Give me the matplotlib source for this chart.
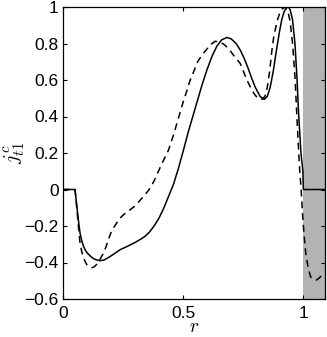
import matplotlib
matplotlib.use("Agg")
import matplotlib.pyplot as plt

# solid curve
r_solid = [0.0, 0.05, 0.055, 0.06, 0.066, 0.071, 0.078, 0.085, 0.092, 0.099, 0.11, 0.12, 0.13,
           0.14, 0.154, 0.17, 0.19, 0.21, 0.2375, 0.27, 0.30, 0.32, 0.34, 0.36, 0.38, 0.40,
           0.42, 0.44, 0.46, 0.48, 0.50, 0.52, 0.54, 0.56, 0.58, 0.60, 0.62, 0.64,
           0.66, 0.682, 0.70, 0.72, 0.7375, 0.755, 0.77, 0.785, 0.80, 0.82, 0.8375, 0.85,
           0.862, 0.875, 0.89, 0.90, 0.91, 0.92, 0.93, 0.938, 0.945, 0.955, 0.965, 0.973,
           0.98, 0.99, 0.998, 1.0, 1.09]
j_solid = [0.0, 0.0, -0.06, -0.12, -0.19, -0.24, -0.28, -0.31, -0.33, -0.345, -0.36, -0.372, -0.381,
           -0.386, -0.39, -0.387, -0.372, -0.355, -0.33, -0.31, -0.29, -0.275, -0.258, -0.233, -0.198, -0.155,
           -0.10, -0.035, 0.03, 0.115, 0.21, 0.31, 0.40, 0.49, 0.58, 0.66, 0.73, 0.785,
           0.82, 0.833, 0.825, 0.80, 0.764, 0.715, 0.665, 0.61, 0.56, 0.51, 0.494, 0.51,
           0.56, 0.65, 0.78, 0.86, 0.93, 0.975, 0.997, 1.0, 0.985, 0.93, 0.80, 0.62,
           0.42, 0.20, 0.10, 0.0, 0.0]

# dashed curve
r_dash = [0.0, 0.05, 0.055, 0.06, 0.066, 0.071, 0.078, 0.085, 0.092, 0.10, 0.11, 0.12, 0.13,
          0.14, 0.155, 0.168, 0.18, 0.19, 0.20, 0.21, 0.22, 0.235, 0.25, 0.265, 0.28, 0.30,
          0.32, 0.34, 0.3625, 0.38, 0.404, 0.42, 0.439, 0.46, 0.48, 0.50, 0.515, 0.529, 0.545,
          0.56, 0.58, 0.599, 0.615, 0.633, 0.65, 0.67, 0.69, 0.71, 0.7375, 0.75, 0.765, 0.78,
          0.795, 0.81, 0.828, 0.84, 0.85, 0.86, 0.868, 0.876, 0.89, 0.90, 0.912, 0.925,
          0.935, 0.945, 0.955, 0.965, 0.973, 0.98, 0.985, 0.99, 0.998, 1.005, 1.01, 1.02,
          1.03, 1.042, 1.054, 1.066, 1.078, 1.09]
j_dash = [0.0, 0.0, -0.07, -0.14, -0.23, -0.295, -0.34, -0.37, -0.395, -0.413, -0.424, -0.428, -0.424,
          -0.41, -0.38, -0.35, -0.31, -0.27, -0.235, -0.21, -0.19, -0.16, -0.14, -0.125, -0.11, -0.09,
          -0.06, -0.03, 0.007, 0.05, 0.12, 0.165, 0.216, 0.30, 0.39, 0.48, 0.54, 0.60, 0.65,
          0.70, 0.74, 0.77, 0.795, 0.812, 0.81, 0.795, 0.77, 0.735, 0.69, 0.65, 0.60, 0.56,
          0.525, 0.50, 0.494, 0.51, 0.56, 0.65, 0.75, 0.83, 0.92, 0.96, 0.99, 1.0,
          0.98, 0.92, 0.80, 0.62, 0.40, 0.22, 0.10, 0.015, -0.167, -0.28, -0.35, -0.43,
          -0.478, -0.493, -0.496, -0.485, -0.468, -0.46]

x_ticks = [0, 0.5, 1]
x_ticklabels = ["0", "0.5", "1"]
y_ticks = [-0.6, -0.4, -0.2, 0, 0.2, 0.4, 0.6, 0.8, 1]
y_ticklabels = ["\u22120.6", "\u22120.4", "\u22120.2", "0", "0.2", "0.4", "0.6", "0.8", "1"]

plt.rcParams['font.family'] = ['Liberation Sans', 'DejaVu Sans']
plt.rcParams['mathtext.fontset'] = 'cm'

fig = plt.figure(figsize=(3.27, 3.37), dpi=100)
ax = fig.add_axes([63/327, 38/337, 262/327, 292/337])

ax.axvspan(1.0, 1.09, color='0.7', lw=0, zorder=0)
ax.plot(r_solid, j_solid, color='black', lw=1.1, zorder=3)
ax.plot(r_dash, j_dash, color='black', lw=1.1, dashes=(4.5, 3.2), zorder=3)

ax.set_xlim(0, 1.09)
ax.set_ylim(-0.6, 1.0)
ax.set_xticks(x_ticks)
ax.set_xticklabels(x_ticklabels)
ax.set_yticks(y_ticks)
ax.set_yticklabels(y_ticklabels)
ax.tick_params(direction='in', length=3, width=0.8, top=True, right=True,
               labelsize=12.5, colors='black')
ax.tick_params(axis='x', pad=5)
ax.tick_params(axis='y', pad=3)
for s in ax.spines.values():
    s.set_linewidth(0.9)

ax.set_xlabel(r'$r$', fontsize=14)
ax.xaxis.set_label_coords(0.5, -0.068)
ax.set_ylabel(r'$j_{t1}^{c}$', fontsize=15, va='center')
ax.yaxis.set_label_coords(-0.185, 0.5)

fig.savefig('out.png', dpi=100)
